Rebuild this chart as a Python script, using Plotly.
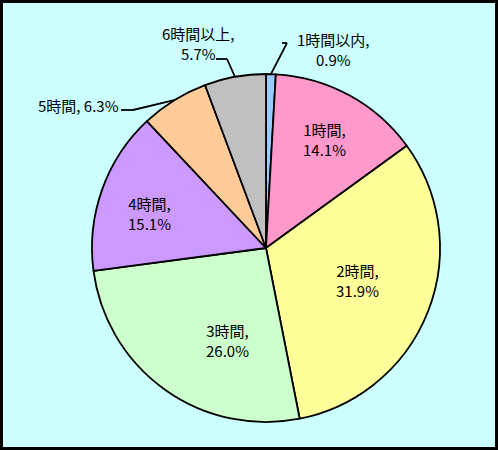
import math
import plotly.graph_objects as go

# ---- data ----
categories = ["1時間以内", "1時間", "2時間", "3時間", "4時間", "5時間", "6時間以上"]
values = [0.9, 14.1, 31.9, 26.0, 15.1, 6.3, 5.7]
colors = ["#99CCFF", "#FF99CC", "#FFFF99", "#CCFFCC", "#CC99FF", "#FFCC99", "#C0C0C0"]

# ---- layout geometry (pixels) ----
W, H = 498, 450
CX, CY, R = 266, 248, 174

def px(x):
    return x / W

def py(y):
    return 1 - y / H

fig = go.Figure(go.Pie(
    labels=categories,
    values=values,
    sort=False,
    direction="clockwise",
    rotation=0,
    marker=dict(colors=colors, line=dict(color="black", width=1.8)),
    textinfo="none",
    hoverinfo="label+percent",
    showlegend=False,
    domain=dict(x=[px(CX - R), px(CX + R)], y=[py(CY + R), py(CY - R)]),
))

# label placement (style): label centre in pixels, optional leader-line elbow/end
label_pos = {
    "1時間以内": dict(xy=(333, 49), text="1時間以内,<br>0.9%", leader=[(287, 43), (282, 43)]),
    "1時間": dict(xy=(324, 139), text="1時間,<br>14.1%"),
    "2時間": dict(xy=(357, 280), text="2時間,<br>31.9%"),
    "3時間": dict(xy=(227, 340), text="3時間,<br>26.0%"),
    "4時間": dict(xy=(149, 214), text="4時間,<br>15.1%"),
    "5時間": dict(xy=(78, 105), text="5時間, 6.3%", leader=[(133, 110), (121, 110)]),
    "6時間以上": dict(xy=(198, 43), text="6時間以上,<br>5.7%", leader=[(227, 59), (216, 59)]),
}

total = sum(values)
cum = 0.0
annotations = []
shapes = []
for cat, v in zip(categories, values):
    mid = (cum + v / 2) / total * 2 * math.pi
    cum += v
    info = label_pos[cat]
    lx, ly = info["xy"]
    annotations.append(dict(
        x=px(lx), y=py(ly), xref="paper", yref="paper",
        xanchor="center", yanchor="middle",
        text=info["text"], showarrow=False, align="center",
        font=dict(family="Noto Sans CJK JP", size=15, color="black"),
    ))
    if "leader" in info:
        ex = CX + R * math.sin(mid)
        ey = CY - R * math.cos(mid)
        pts = [(ex, ey)] + info["leader"]
        for (a0, b0), (a1, b1) in zip(pts[:-1], pts[1:]):
            shapes.append(dict(type="line", xref="paper", yref="paper",
                               x0=px(a0), y0=py(b0), x1=px(a1), y1=py(b1),
                               line=dict(color="black", width=1.8)))

# outer border
shapes.append(dict(type="rect", xref="paper", yref="paper",
                   x0=px(1.5), x1=px(W - 1.5), y0=py(H - 1.5), y1=py(1.5),
                   line=dict(color="black", width=3)))

fig.update_layout(
    width=W, height=H,
    margin=dict(l=0, r=0, t=0, b=0),
    paper_bgcolor="#CCFFFF",
    plot_bgcolor="#CCFFFF",
    annotations=annotations,
    shapes=shapes,
)

fig.write_html("out.html", config={"displayModeBar": False},
               post_script="document.body.style.margin='0';")
